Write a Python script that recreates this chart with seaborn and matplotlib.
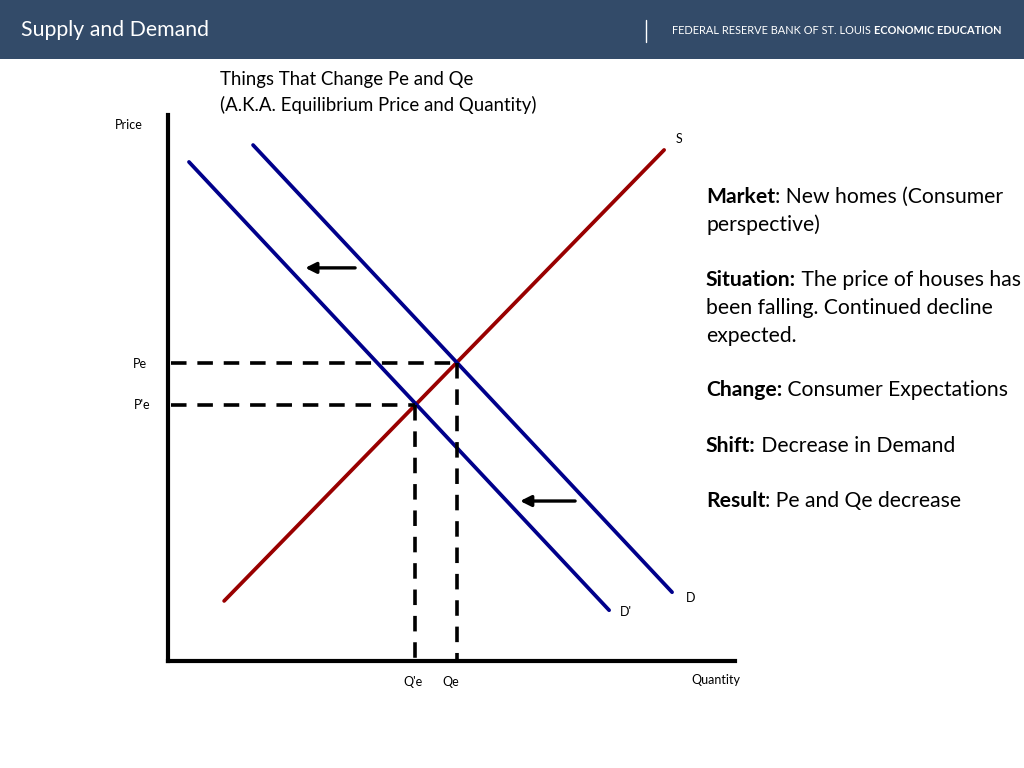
import numpy as np
import pandas as pd
import seaborn as sns
import matplotlib.pyplot as plt
from matplotlib.patches import Rectangle

# chart units: quantity 0-10 across, price 0-10 up
curve_names = ['S', 'D', "D'"]
curve_q = [[0.99, 8.75], [1.50, 8.89], [0.37, 7.78]]
curve_p = [[1.10, 9.36], [9.45, 1.26], [9.14, 0.93]]
curve_colors = {'S': '#990000', 'D': '#00008b', "D'": '#00008b'}

# equilibria (old and new)
qe, pe = 5.10, 5.46
qe2, pe2 = 4.36, 4.69

# shift arrows (from -> to, at price level)
arrow_from = [3.30, 7.18]
arrow_to = [2.42, 6.21]
arrow_p = [7.20, 2.93]

title_lines = ['Things That Change Pe and Qe', '(A.K.A. Equilibrium Price and Quantity)']
notes = [
    ('Market', ': New homes (Consumer'),
    ('', 'perspective)'),
    ('Situation:', ' The price of houses has'),
    ('', 'been falling. Continued decline'),
    ('', 'expected.'),
    ('Change:', ' Consumer Expectations'),
    ('Shift:', ' Decrease in Demand'),
    ('Result', ': Pe and Qe decrease'),
]
note_y = [197, 225, 280, 308, 336, 390, 446, 501]

sns.set_style('white')
plt.rcParams['font.family'] = ['Lato', 'DejaVu Sans']
plt.rcParams['text.color'] = 'black'

W, H = 1024, 768
fig = plt.figure(figsize=(W / 100, H / 100), dpi=100)

def fx(px):
    return px / W

def fy(py):
    return 1 - py / H

# header bar
fig.add_artist(Rectangle((0, fy(59)), 1, 59 / H, transform=fig.transFigure,
                         facecolor='#334b69', edgecolor='none'))
fig.text(fx(21), fy(30), 'Supply and Demand', color='white', fontsize=15.3,
         va='center', ha='left')
fig.add_artist(plt.Line2D([fx(646), fx(646)], [fy(20), fy(42)], transform=fig.transFigure,
                          color='white', lw=1))
renderer = fig.canvas.get_renderer()
t1 = fig.text(fx(672), fy(31), 'FEDERAL RESERVE BANK OF ST. LOUIS ', color='white',
              fontsize=7.9, va='center', ha='left')
bb = t1.get_window_extent(renderer)
fig.text(bb.x1 / W, fy(31), 'ECONOMIC EDUCATION', color='white', fontsize=7.9,
         fontweight='bold', va='center', ha='left')

# main chart axes: origin at pixel (168, 661)
ax = fig.add_axes([fx(168), fy(661), fx(735 - 168), (661 - 115) / H])
ax.set_xlim(0, 10)
ax.set_ylim(0, 10)
ax.set_xticks([])
ax.set_yticks([])
for s in ['top', 'right']:
    ax.spines[s].set_visible(False)
for s in ['left', 'bottom']:
    ax.spines[s].set_color('black')
    ax.spines[s].set_linewidth(3)
ax.patch.set_alpha(0)

rows = []
for name, qs, ps in zip(curve_names, curve_q, curve_p):
    for q, p in zip(qs, ps):
        rows.append({'curve': name, 'q': q, 'p': p})
df = pd.DataFrame(rows)
sns.lineplot(data=df, x='q', y='p', hue='curve', palette=curve_colors, sort=False,
             estimator=None, lw=2.7, legend=False, ax=ax)

dash = (4.3, 3.0)
for q, p in [(qe, pe), (qe2, pe2)]:
    ax.plot([0.05, q], [p, p], color='black', lw=2.6, dashes=dash, clip_on=False)
    ax.plot([q, q], [p, 0], color='black', lw=2.6, dashes=dash, clip_on=False)

for a0, a1, p in zip(arrow_from, arrow_to, arrow_p):
    ax.annotate('', xy=(a1, p), xytext=(a0, p),
                arrowprops=dict(arrowstyle='-|>', color='black', lw=2.4,
                                mutation_scale=16, shrinkA=0, shrinkB=0))
ax.set_xlabel('')
ax.set_ylabel('')

# small labels
small = 9
fig.text(fx(129), fy(125), 'Price', fontsize=small, ha='center', va='center')
fig.text(fx(679), fy(139), 'S', fontsize=small, ha='center', va='center')
fig.text(fx(691), fy(598), 'D', fontsize=small, ha='center', va='center')
fig.text(fx(626), fy(612), "D'", fontsize=small, ha='center', va='center')
fig.text(fx(140), fy(364), 'Pe', fontsize=small, ha='center', va='center')
fig.text(fx(142), fy(405), "P'e", fontsize=small, ha='center', va='center')
fig.text(fx(413), fy(682), "Q'e", fontsize=small, ha='center', va='center')
fig.text(fx(451), fy(682), 'Qe', fontsize=small, ha='center', va='center')
fig.text(fx(716), fy(680), 'Quantity', fontsize=small, ha='center', va='center')

# chart title
fig.text(fx(220), fy(80), title_lines[0], fontsize=13.4, ha='left', va='center')
fig.text(fx(220), fy(105), title_lines[1], fontsize=13.4, ha='left', va='center')

# notes on the right
for (bold, rest), y in zip(notes, note_y):
    x = fx(706)
    if bold:
        tb = fig.text(x, fy(y), bold, fontsize=15.2, fontweight='bold', ha='left', va='center')
        x = tb.get_window_extent(renderer).x1 / W
    fig.text(x, fy(y), rest, fontsize=15.2, ha='left', va='center')

fig.savefig('out.png', dpi=100)
